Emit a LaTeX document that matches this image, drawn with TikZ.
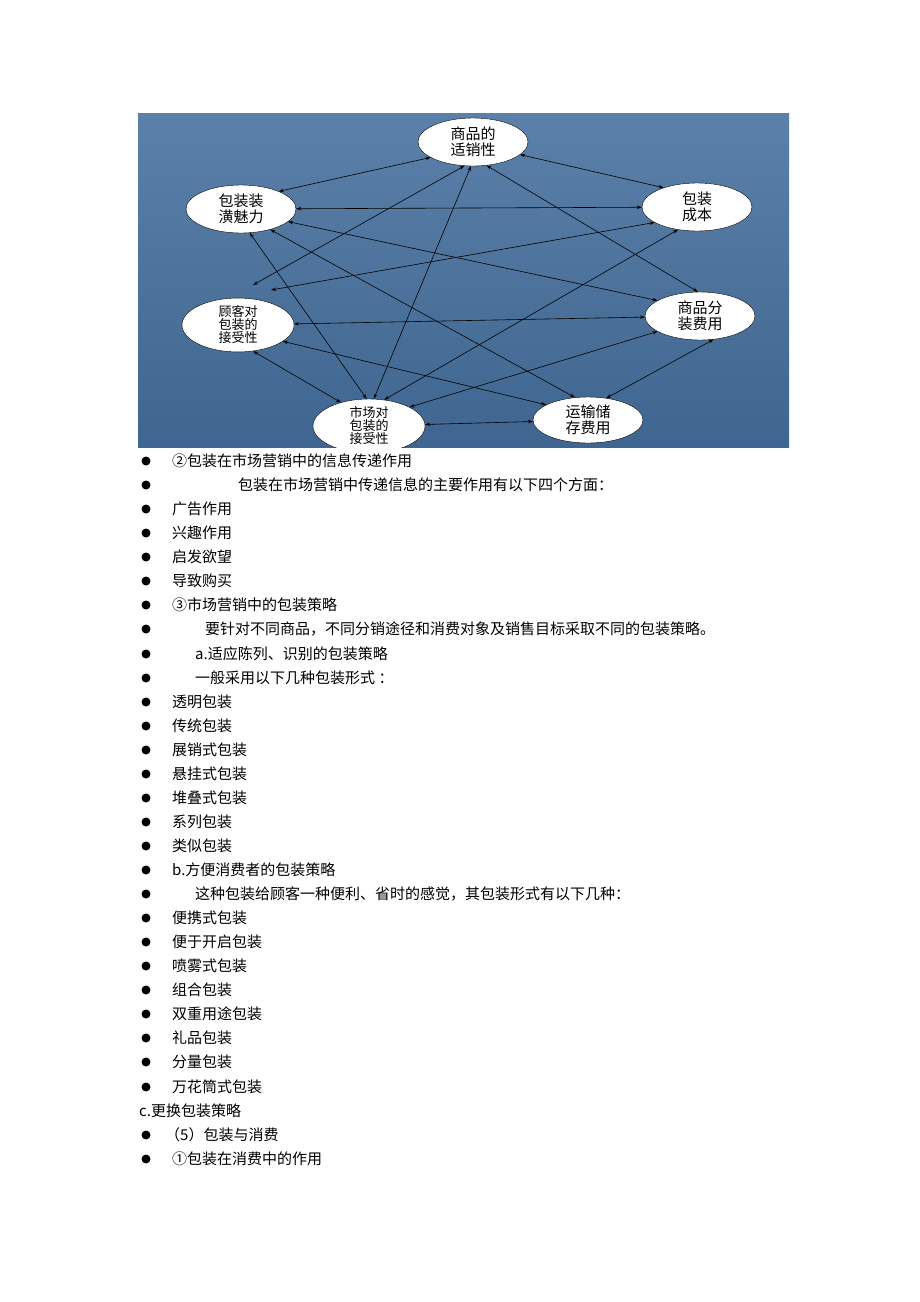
\documentclass[tikz,border=0pt]{standalone}
\usepackage{fontspec}
\setmainfont{Liberation Serif}
\newfontfamily\cjk{Noto Sans CJK SC}
\usetikzlibrary{shapes.geometric,arrows.meta}
\definecolor{panelTop}{HTML}{5B80A9}
\definecolor{panelBot}{HTML}{3F6690}
\tikzset{
  ell/.style={ellipse, draw=black, fill=white, inner sep=0pt, minimum width=110pt, minimum height=48pt, font=\cjk\fontsize{15}{15.5}\selectfont, align=center},
  link/.style={<->, >={Stealth[length=5pt,width=3.5pt]}, line width=0.6pt},
  item/.style={anchor=west, inner sep=0pt, font=\cjk\fontsize{15}{16}\selectfont}
}
\begin{document}
\begin{tikzpicture}[x=1pt,y=-1pt]
        \useasboundingbox (0,0) rectangle (920,1302);
        \fill[white] (0,0) rectangle (920,1302);
        % Panel
        \shade[top color=panelTop, bottom color=panelBot] (138,113) rectangle (789,447);
        \begin{scope}
        \clip (138,113) rectangle (789,447);
        % Nodes
        \node[ell] (Sale) at (473,142) {商品的\\适销性};
        \node[ell] (Charm) at (241,209) {包装装\\潢魅力};
        \node[ell] (Cost) at (697,207) {包装\\成本};
        \node[ell, minimum width=112pt, minimum height=50pt, font=\cjk\fontsize{13}{13}\selectfont] (Buyer) at (238,325) {顾客对\\包装的\\接受性};
        \node[ell] (Split) at (700,316) {商品分\\装费用};
        \node[ell, minimum width=112pt, minimum height=54pt, font=\cjk\fontsize{13}{13}\selectfont] (Market) at (369,426) {市场对\\包装的\\接受性};
        \node[ell, minimum height=46pt] (Trans) at (588,420) {运输储\\存费用};
        \coordinate (LooseA) at (253,285);
        \coordinate (LooseB) at (271,290);

        % Arrows
        \draw[link] (Sale.200) -- (Charm.25);
        \draw[link] (Sale.-15) -- (Cost.150);
        \draw[link] (Charm) -- (Cost);
        \draw[link] (Charm.-15) -- (Split.160);
        \draw[link] (Charm.-35) -- (Trans.120);
        \draw[link] (Charm.-70) -- (Market.95);
        \draw[link] (Sale.250) -- (LooseA);
        \draw[link] (Cost.200) -- (LooseB);
        \draw[link] (Sale.265) -- (Market.80);
        \draw[link] (Sale.-60) -- (Split.95);
        \draw[link] (Buyer) -- (Split);
        \draw[link] (Buyer.-20) -- (Trans.160);
        \draw[link] (Buyer.-60) -- (Market.140);
        \draw[link] (Cost.230) -- (Market.60);
        \draw[link] (Split.200) -- (Market.25);
        \draw[link] (Split.-60) -- (Trans.50);
        \draw[link] (Market) -- (Trans);
        \end{scope}

        % Text list
        \foreach \y/\x/\t/\b in {
          461/172/{②包装在市场营销中的信息传递作用}/1,
          485/238/{包装在市场营销中传递信息的主要作用有以下四个方面：}/1,
          509/172/{广告作用}/1,
          533/172/{兴趣作用}/1,
          557/172/{启发欲望}/1,
          581/172/{导致购买}/1,
          605/172/{③市场营销中的包装策略}/1,
          629/205/{要针对不同商品，不同分销途径和消费对象及销售目标采取不同的包装策略。}/1,
          654/195/{a.适应陈列、识别的包装策略}/1,
          678/195/{一般采用以下几种包装形式 ：}/1,
          702/172/{透明包装}/1,
          726/172/{传统包装}/1,
          750/172/{展销式包装}/1,
          774/172/{悬挂式包装}/1,
          798/172/{堆叠式包装}/1,
          822/172/{系列包装}/1,
          846/172/{类似包装}/1,
          870/172/{b.方便消费者的包装策略}/1,
          894/195/{这种包装给顾客一种便利、省时的感觉，其包装形式有以下几种：}/1,
          918/172/{便携式包装}/1,
          942/172/{便于开启包装}/1,
          966/172/{喷雾式包装}/1,
          990/172/{组合包装}/1,
          1014/172/{双重用途包装}/1,
          1038/172/{礼品包装}/1,
          1062/172/{分量包装}/1,
          1087/172/{万花筒式包装}/1,
          1111/139/{c.更换包装策略}/0,
          1135/165/{（5）包装与消费}/1,
          1159/172/{①包装在消费中的作用}/1}
        {
          \node[item] (line\y) at (\x,\y) {\t};
          \ifnum\b=1 \fill (146,\y) circle (4.5pt); \fi
        }
    \end{tikzpicture}
\end{document}
